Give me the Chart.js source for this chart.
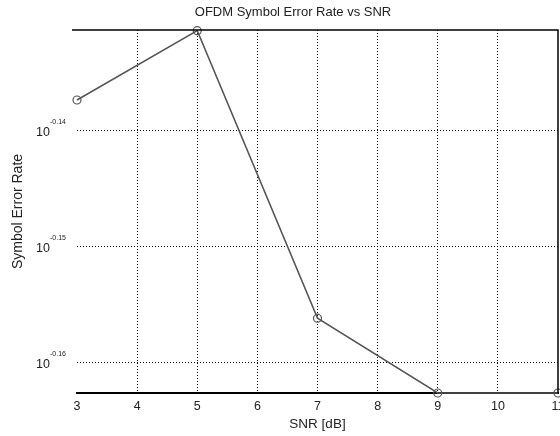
<!DOCTYPE html>
<html>
<head>
<meta charset="utf-8">
<script src="https://cdn.jsdelivr.net/npm/chart.js@4.4.0/dist/chart.umd.min.js"></script>
<style>
  html, body { margin: 0; padding: 0; background: #fff; overflow: hidden; }
  canvas { display: block; }
</style>
</head>
<body>
<canvas id="chart" width="580" height="436"></canvas>
<script>
const snr = [3, 5, 7, 9, 11];
const symbolErrorRate = [0.7289, 0.7390, 0.6980, 0.6877, 0.6877];
const yTickExponents = [-0.14, -0.15, -0.16];
const yMin = 0.6877;
const yMax = 0.7391;
const chartTitle = "OFDM Symbol Error Rate vs SNR";

const FONT = "'Liberation Sans', Arial, sans-serif";

// draws "10" with a small exponent next to each y grid line, plus the title
const expLabels = {
  id: "expLabels",
  afterDraw(chart) {
    const { ctx, scales: { y } } = chart;
    ctx.save();
    ctx.fillStyle = "#222";
    ctx.textBaseline = "middle";
    yTickExponents.forEach((e) => {
      const py = y.getPixelForValue(Math.pow(10, e));
      ctx.font = "12.5px " + FONT;
      ctx.textAlign = "right";
      ctx.fillText("10", 50, py + 2);
      ctx.font = "7px " + FONT;
      ctx.textAlign = "left";
      ctx.fillText(e.toFixed(2), 50, py - 9);
    });
    ctx.font = "13px " + FONT;
    ctx.textAlign = "center";
    ctx.fillText(chartTitle, 293, 12);
    ctx.restore();
  }
};

// solid top and right frame lines
const frame = {
  id: "frame",
  afterDatasetsDraw(chart) {
    const { ctx, chartArea: a } = chart;
    ctx.save();
    ctx.strokeStyle = "#000";
    ctx.lineWidth = 1.5;
    ctx.beginPath();
    ctx.moveTo(a.left - 5, a.top);
    ctx.lineTo(a.right, a.top);
    ctx.lineTo(a.right, a.bottom);
    ctx.stroke();
    ctx.restore();
  }
};

const ctx = document.getElementById("chart").getContext("2d");
new Chart(ctx, {
  type: "line",
  data: {
    datasets: [{
      data: snr.map((x, i) => ({ x, y: symbolErrorRate[i] })),
      borderColor: "#555",
      borderWidth: 1.5,
      pointRadius: 4,
      pointBorderWidth: 1.2,
      pointBorderColor: "#555",
      pointBackgroundColor: "rgba(0,0,0,0)",
      pointStyle: "circle",
      clip: false,
      tension: 0
    }]
  },
  options: {
    responsive: false,
    animation: false,
    layout: { padding: { left: 0, right: 22, top: 30, bottom: 0 } },
    plugins: {
      legend: { display: false },
      tooltip: { enabled: false },
      title: { display: false }
    },
    scales: {
      x: {
        type: "linear",
        min: 3,
        max: 11,
        ticks: { stepSize: 1, color: "#222", padding: 6, font: { family: FONT, size: 12.5 } },
        grid: {
          color: (c) => (c.index === 0 || c.index === 8 ? "rgba(0,0,0,0)" : "#000"),
          lineWidth: 1,
          drawTicks: false
        },
        border: { display: true, color: "#000", width: 2, dash: [1, 2] },
        title: {
          display: true,
          text: "SNR [dB]",
          color: "#222",
          font: { family: FONT, size: 13.5 },
          padding: { top: 4, bottom: 4 }
        },
        afterFit: (s) => { s.height = 43; }
      },
      y: {
        type: "logarithmic",
        min: yMin,
        max: yMax,
        afterBuildTicks: (s) => {
          s.ticks = yTickExponents.map((e) => ({ value: Math.pow(10, e) }));
        },
        ticks: { callback: () => "" },
        grid: { color: "#000", lineWidth: 1, drawTicks: false },
        border: { display: false, dash: [1, 2] },
        title: {
          display: true,
          text: "Symbol Error Rate",
          color: "#222",
          font: { family: FONT, size: 14 },
          padding: { top: 10, bottom: 0 }
        },
        afterFit: (s) => { s.width = 77; }
      }
    }
  },
  plugins: [expLabels, frame]
});
</script>
</body>
</html>
